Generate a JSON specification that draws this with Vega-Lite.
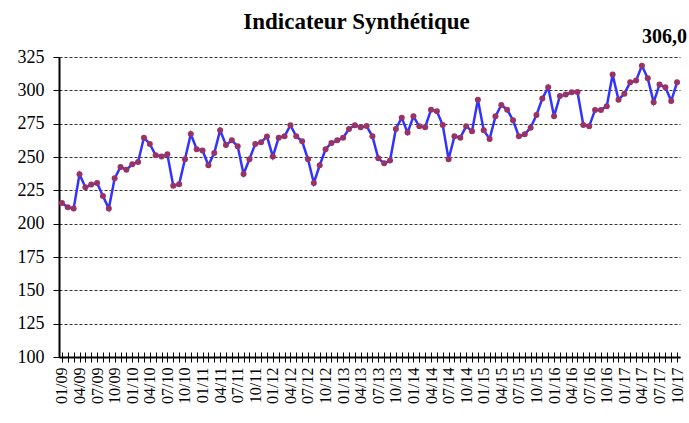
{
  "$schema": "https://vega.github.io/schema/vega-lite/v6.json",
  "width": 621,
  "height": 300,
  "autosize": {"type": "none"},
  "padding": {"left": 59, "top": 57, "right": 9, "bottom": 66},
  "background": "white",
  "title": {"text": "Indicateur Synthétique", "font": "Liberation Serif", "fontSize": 23, "fontWeight": "bold", "color": "black", "anchor": "middle", "offset": -7, "dx": -13},
  "config": {
    "view": {"stroke": null},
    "locale": {"number": {"decimal": ",", "thousands": " ", "grouping": [3], "currency": ["", " €"]}},
    "axis": {"labelFont": "Liberation Serif", "labelColor": "black", "titleFont": "Liberation Serif"},
    "axisY": {"labelFont": "Liberation Serif"},
    "axisQuantitative": {"labelFont": "Liberation Serif"}
  },
  "data": {"values": [
    {"m": "01/09", "v": 215.5}, {"m": "02/09", "v": 212.3}, {"m": "03/09", "v": 211.3}, {"m": "04/09", "v": 237.0},
    {"m": "05/09", "v": 227.3}, {"m": "06/09", "v": 229.3}, {"m": "07/09", "v": 230.5}, {"m": "08/09", "v": 220.8},
    {"m": "09/09", "v": 211.3}, {"m": "10/09", "v": 234.0}, {"m": "11/09", "v": 242.5}, {"m": "12/09", "v": 240.5},
    {"m": "01/10", "v": 244.5}, {"m": "02/10", "v": 246.3}, {"m": "03/10", "v": 264.5}, {"m": "04/10", "v": 259.8},
    {"m": "05/10", "v": 251.3}, {"m": "06/10", "v": 250.4}, {"m": "07/10", "v": 252.0}, {"m": "08/10", "v": 228.5},
    {"m": "09/10", "v": 229.5}, {"m": "10/10", "v": 248.3}, {"m": "11/10", "v": 267.3}, {"m": "12/10", "v": 255.8},
    {"m": "01/11", "v": 254.8}, {"m": "02/11", "v": 243.8}, {"m": "03/11", "v": 253.0}, {"m": "04/11", "v": 270.0},
    {"m": "05/11", "v": 259.0}, {"m": "06/11", "v": 262.5}, {"m": "07/11", "v": 258.0}, {"m": "08/11", "v": 237.3},
    {"m": "09/11", "v": 248.3}, {"m": "10/11", "v": 259.8}, {"m": "11/11", "v": 261.0}, {"m": "12/11", "v": 265.4},
    {"m": "01/12", "v": 250.3}, {"m": "02/12", "v": 264.5}, {"m": "03/12", "v": 265.5}, {"m": "04/12", "v": 273.8},
    {"m": "05/12", "v": 265.5}, {"m": "06/12", "v": 261.8}, {"m": "07/12", "v": 248.3}, {"m": "08/12", "v": 230.5},
    {"m": "09/12", "v": 243.8}, {"m": "10/12", "v": 255.8}, {"m": "11/12", "v": 260.5}, {"m": "12/12", "v": 262.5},
    {"m": "01/13", "v": 264.5}, {"m": "02/13", "v": 271.0}, {"m": "03/13", "v": 273.8}, {"m": "04/13", "v": 272.3},
    {"m": "05/13", "v": 273.2}, {"m": "06/13", "v": 265.5}, {"m": "07/13", "v": 249.0}, {"m": "08/13", "v": 245.3},
    {"m": "09/13", "v": 247.3}, {"m": "10/13", "v": 271.0}, {"m": "11/13", "v": 279.5}, {"m": "12/13", "v": 268.3},
    {"m": "01/14", "v": 280.5}, {"m": "02/14", "v": 273.0}, {"m": "03/14", "v": 272.3}, {"m": "04/14", "v": 285.5},
    {"m": "05/14", "v": 284.3}, {"m": "06/14", "v": 274.0}, {"m": "07/14", "v": 248.3}, {"m": "08/14", "v": 265.5},
    {"m": "09/14", "v": 264.5}, {"m": "10/14", "v": 273.0}, {"m": "11/14", "v": 269.3}, {"m": "12/14", "v": 293.0},
    {"m": "01/15", "v": 270.0}, {"m": "02/15", "v": 263.5}, {"m": "03/15", "v": 280.5}, {"m": "04/15", "v": 289.0},
    {"m": "05/15", "v": 285.5}, {"m": "06/15", "v": 277.5}, {"m": "07/15", "v": 265.5}, {"m": "08/15", "v": 267.0},
    {"m": "09/15", "v": 272.0}, {"m": "10/15", "v": 281.5}, {"m": "11/15", "v": 293.8}, {"m": "12/15", "v": 302.3},
    {"m": "01/16", "v": 280.5}, {"m": "02/16", "v": 295.8}, {"m": "03/16", "v": 296.8}, {"m": "04/16", "v": 298.5},
    {"m": "05/16", "v": 298.8}, {"m": "06/16", "v": 274.0}, {"m": "07/16", "v": 273.0}, {"m": "08/16", "v": 285.3},
    {"m": "09/16", "v": 285.3}, {"m": "10/16", "v": 288.0}, {"m": "11/16", "v": 311.8}, {"m": "12/16", "v": 293.0},
    {"m": "01/17", "v": 297.5}, {"m": "02/17", "v": 306.0}, {"m": "03/17", "v": 307.3}, {"m": "04/17", "v": 318.5},
    {"m": "05/17", "v": 309.0}, {"m": "06/17", "v": 291.0}, {"m": "07/17", "v": 304.3}, {"m": "08/17", "v": 302.3},
    {"m": "09/17", "v": 292.0}, {"m": "10/17", "v": 306.0}
  ]},
  "resolve": {"axis": {"x": "independent"}},
  "encoding": {
    "y": {"field": "v", "type": "quantitative",
          "scale": {"domain": [100, 325], "nice": false, "zero": false},
          "axis": {"title": null, "values": [100, 125, 150, 175, 200, 225, 250, 275, 300, 325],
                   "labelOverlap": false, "labelFont": "Liberation Serif", "labelFontSize": 18, "labelPadding": 9,
                   "tickSize": 6, "tickColor": "black", "tickWidth": 1,
                   "domainColor": "black", "domainWidth": 2,
                   "grid": true, "gridColor": "#333333", "gridDash": [3, 2], "gridWidth": 1}}
  },
  "layer": [
    {
      "mark": {"type": "line", "color": "#3333ff", "strokeWidth": 2.5},
      "encoding": {
        "x": {"field": "m", "type": "ordinal", "sort": null,
              "scale": {"type": "point", "padding": 0.5},
              "axis": {"title": null, "orient": "bottom", "offset": -5, "domain": false, "labels": false, "grid": false,
                       "ticks": true, "tickSize": 5, "tickColor": "black", "tickWidth": 1}}
      }
    },
    {
      "mark": {"type": "point", "filled": true, "color": "#993366", "opacity": 1, "size": 36},
      "encoding": {
        "x": {"field": "m", "type": "ordinal", "sort": null,
              "axis": {"title": null, "orient": "bottom", "domain": true, "domainColor": "black", "domainWidth": 2,
                       "tickSize": 5, "tickColor": "black", "tickWidth": 1, "grid": false,
                       "labelAngle": 270, "labelFontSize": 16, "labelPadding": 5,
                       "labelExpr": "indexof(['01','04','07','10'], substring(datum.value, 0, 2)) >= 0 ? datum.value : ''"}}
      }
    },
    {
      "transform": [{"filter": "datum.m == '10/17'"}],
      "mark": {"type": "text", "font": "Liberation Serif", "fontSize": 20, "fontWeight": "bold", "color": "black",
               "align": "right", "baseline": "alphabetic", "dx": 10, "dy": -39},
      "encoding": {
        "x": {"field": "m", "type": "ordinal", "sort": null, "axis": null},
        "text": {"field": "v", "type": "quantitative", "format": ".1f"}
      }
    }
  ]
}
